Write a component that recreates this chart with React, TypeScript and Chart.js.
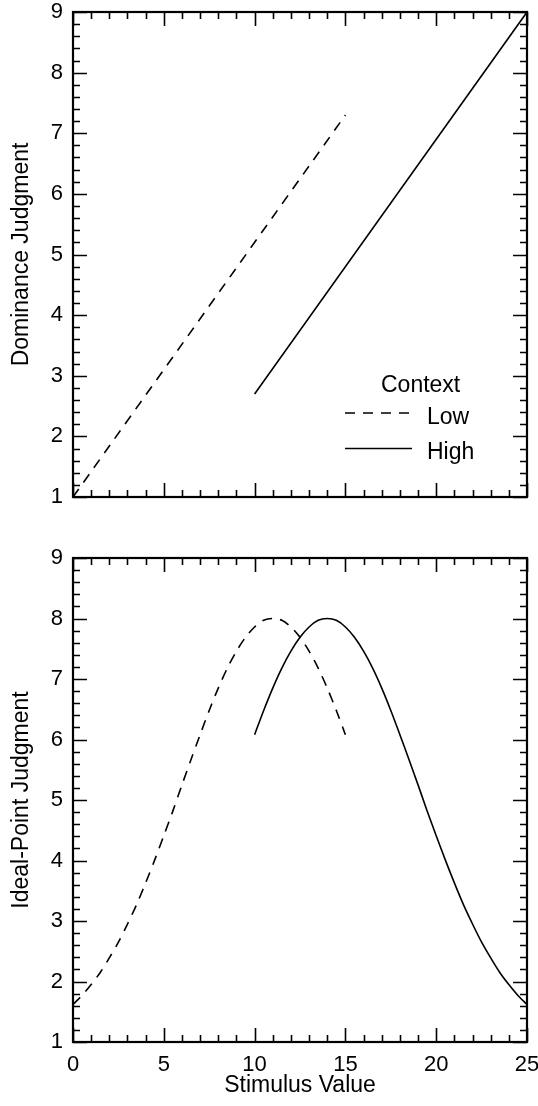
import React, { useEffect, useRef } from "react";
import { Chart, registerables } from "chart.js";

Chart.register(...registerables);

// ---- data ----
const stimulusMin = 0;
const stimulusMax = 25;
const judgmentMin = 1;
const judgmentMax = 9;

// Dominance judgments (top panel)
const domLowX = [0, 15];
const domLowY = [1.0, 7.3];
const domHighX = [10, 25];
const domHighY = [2.7, 9.0];

// Ideal-point judgments (bottom panel)
const idealLowX = [0, 0.5, 1, 1.5, 2, 2.5, 3, 3.5, 4, 4.5, 5, 5.5, 6, 6.5, 7, 7.5, 8, 8.5, 9, 9.5, 10, 10.5, 11, 11.5, 12, 12.5, 13, 13.5, 14, 14.5, 15];
const idealLowY = [1.62, 1.77, 1.95, 2.15, 2.39, 2.65, 2.95, 3.27, 3.63, 4.01, 4.41, 4.82, 5.25, 5.67, 6.08, 6.48, 6.85, 7.18, 7.46, 7.69, 7.86, 7.97, 8.0, 7.97, 7.86, 7.69, 7.46, 7.18, 6.85, 6.48, 6.08];
const idealHighX = [10, 10.5, 11, 11.5, 12, 12.5, 13, 13.5, 14, 14.5, 15, 15.5, 16, 16.5, 17, 17.5, 18, 18.5, 19, 19.5, 20, 20.5, 21, 21.5, 22, 22.5, 23, 23.5, 24, 24.5, 25];
const idealHighY = [6.08, 6.48, 6.85, 7.18, 7.46, 7.69, 7.86, 7.97, 8.0, 7.97, 7.86, 7.69, 7.46, 7.18, 6.85, 6.48, 6.08, 5.67, 5.25, 4.82, 4.41, 4.01, 3.63, 3.27, 2.95, 2.65, 2.39, 2.15, 1.95, 1.77, 1.62];

const legendTitle = "Context";
const seriesNames = ["Low", "High"];
const xTitle = "Stimulus Value";
const topYTitle = "Dominance Judgment";
const bottomYTitle = "Ideal-Point Judgment";

const FONT = "'Liberation Sans', Arial, Helvetica, sans-serif";
const DASH = [10, 8];

function zip(xs: number[], ys: number[]) {
  return xs.map((x, i) => ({ x, y: ys[i] }));
}

const framePlugin = {
  id: "frameTicks",
  afterDatasetsDraw(chart: any) {
    const { ctx, chartArea } = chart;
    const xs = chart.scales.x;
    const ys = chart.scales.y;
    ctx.save();
    ctx.strokeStyle = "#000";
    ctx.lineWidth = 1.6;
    ctx.beginPath();
    for (let v = stimulusMin; v <= stimulusMax; v += 1) {
      const px = Math.round(xs.getPixelForValue(v)) + 0.5;
      const len = v % 5 === 0 ? 14 : 7;
      ctx.moveTo(px, chartArea.bottom);
      ctx.lineTo(px, chartArea.bottom - len);
      ctx.moveTo(px, chartArea.top);
      ctx.lineTo(px, chartArea.top + len);
    }
    for (let i = 0; i <= (judgmentMax - judgmentMin) * 5; i++) {
      const v = judgmentMin + i * 0.2;
      const py = Math.round(ys.getPixelForValue(v)) + 0.5;
      const len = i % 5 === 0 ? 14 : 7;
      ctx.moveTo(chartArea.left, py);
      ctx.lineTo(chartArea.left + len, py);
      ctx.moveTo(chartArea.right, py);
      ctx.lineTo(chartArea.right - len, py);
    }
    ctx.stroke();
    ctx.lineWidth = 2.2;
    ctx.strokeRect(chartArea.left, chartArea.top, chartArea.right - chartArea.left, chartArea.bottom - chartArea.top);
    ctx.restore();
  },
};

const legendPlugin = {
  id: "ctxLegend",
  afterDraw(chart: any) {
    const { ctx } = chart;
    ctx.save();
    ctx.fillStyle = "#000";
    ctx.strokeStyle = "#000";
    ctx.font = `23px ${FONT}`;
    ctx.textBaseline = "alphabetic";
    ctx.textAlign = "left";
    ctx.fillText(legendTitle, 381, 392);
    ctx.fillText(seriesNames[0], 427, 424);
    ctx.fillText(seriesNames[1], 427, 459);
    ctx.lineWidth = 1.6;
    ctx.setLineDash(DASH);
    ctx.beginPath();
    ctx.moveTo(345, 413);
    ctx.lineTo(410, 413);
    ctx.stroke();
    ctx.setLineDash([]);
    ctx.beginPath();
    ctx.moveTo(345, 448.5);
    ctx.lineTo(412, 448.5);
    ctx.stroke();
    ctx.restore();
  },
};

function makeConfig(opts: {
  lowX: number[]; lowY: number[]; highX: number[]; highY: number[];
  yTitle: string; showX: boolean; padTop: number; xHeight: number; legend: boolean;
}) {
  return {
    type: "scatter" as const,
    data: {
      datasets: [
        {
          label: seriesNames[0],
          data: zip(opts.lowX, opts.lowY),
          showLine: true,
          borderColor: "#000",
          borderWidth: 1.6,
          borderDash: DASH,
          pointRadius: 0,
          tension: 0.3,
          fill: false,
        },
        {
          label: seriesNames[1],
          data: zip(opts.highX, opts.highY),
          showLine: true,
          borderColor: "#000",
          borderWidth: 1.6,
          pointRadius: 0,
          tension: 0.3,
          fill: false,
        },
      ],
    },
    options: {
      responsive: false,
      animation: false as const,
      layout: { padding: { top: opts.padTop, right: 11, left: 0, bottom: 0 } },
      plugins: { legend: { display: false }, tooltip: { enabled: false } },
      scales: {
        x: {
          type: "linear" as const,
          min: stimulusMin,
          max: stimulusMax,
          grid: { display: false, drawTicks: false },
          border: { display: false },
          ticks: {
            display: opts.showX,
            stepSize: 5,
            padding: 10,
            color: "#000",
            font: { family: FONT, size: 22 },
            maxRotation: 0,
          },
          title: {
            display: opts.showX,
            text: xTitle,
            color: "#000",
            font: { family: FONT, size: 23 },
            padding: { top: 0, bottom: 7 },
          },
          afterFit(scale: any) {
            scale.height = opts.xHeight;
            scale.paddingLeft = 0;
            scale.paddingRight = 0;
            scale.paddingTop = 0;
            scale.paddingBottom = 0;
          },
        },
        y: {
          type: "linear" as const,
          min: judgmentMin,
          max: judgmentMax,
          grid: { display: false, drawTicks: false },
          border: { display: false },
          ticks: {
            stepSize: 1,
            padding: 10,
            color: "#000",
            font: { family: FONT, size: 22 },
          },
          title: {
            display: true,
            text: opts.yTitle,
            color: "#000",
            font: { family: FONT, size: 23 },
            padding: { top: 8, bottom: 0 },
          },
          afterFit(scale: any) {
            scale.width = 73;
            scale.paddingLeft = 0;
            scale.paddingRight = 0;
            scale.paddingTop = 0;
            scale.paddingBottom = 0;
          },
        },
      },
    },
    plugins: opts.legend ? [framePlugin, legendPlugin] : [framePlugin],
  };
}

export default function App() {
  const topRef = useRef<HTMLCanvasElement | null>(null);
  const botRef = useRef<HTMLCanvasElement | null>(null);

  useEffect(() => {
    const top = new Chart(topRef.current as HTMLCanvasElement, makeConfig({
      lowX: domLowX, lowY: domLowY, highX: domHighX, highY: domHighY,
      yTitle: topYTitle, showX: false, padTop: 12, xHeight: 33, legend: true,
    }) as any);
    const bot = new Chart(botRef.current as HTMLCanvasElement, makeConfig({
      lowX: idealLowX, lowY: idealLowY, highX: idealHighX, highY: idealHighY,
      yTitle: bottomYTitle, showX: true, padTop: 28, xHeight: 64, legend: false,
    }) as any);
    return () => {
      top.destroy();
      bot.destroy();
    };
  }, []);

  return (
    <div style={{ position: "absolute", left: 0, top: 0, width: 538, height: 1106, background: "#fff" }}>
      <canvas ref={topRef} width={538} height={530} style={{ position: "absolute", left: 0, top: 0, width: 538, height: 530 }} />
      <canvas ref={botRef} width={538} height={576} style={{ position: "absolute", left: 0, top: 530, width: 538, height: 576 }} />
    </div>
  );
}
